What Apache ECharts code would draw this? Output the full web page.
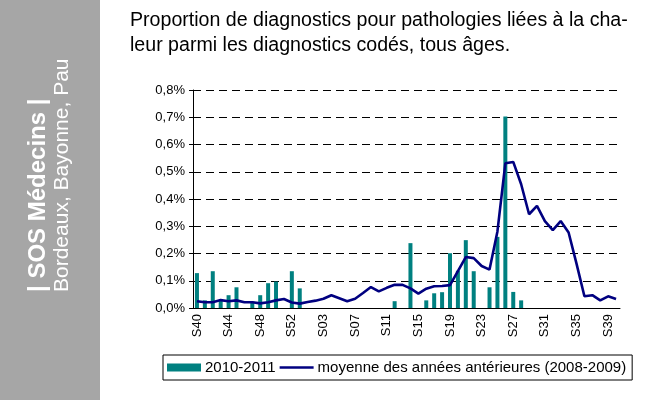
<!DOCTYPE html>
<html>
<head>
<meta charset="utf-8">
<script src="https://cdn.jsdelivr.net/npm/echarts@6/dist/echarts.min.js"></script>
<style>
  html, body { margin: 0; padding: 0; background: #fff; }
  #chart { width: 645px; height: 400px; }
</style>
</head>
<body>
<div id="chart"></div>
<script>
// semaines S40 (2010) -> S40 (2011)
const weeks = ['S40','S41','S42','S43','S44','S45','S46','S47','S48','S49','S50','S51','S52','S53',
  'S01','S02','S03','S04','S05','S06','S07','S08','S09','S10','S11','S12','S13','S14','S15','S16',
  'S17','S18','S19','S20','S21','S22','S23','S24','S25','S26','S27','S28','S29','S30','S31','S32',
  'S33','S34','S35','S36','S37','S38','S39','S40'];

// 2010-2011 (en %)
const saison = [0.128,0.028,0.135,0.027,0.047,0.076,null,0.024,0.047,0.091,0.097,null,0.135,0.072,
  null,null,null,null,null,null,null,null,null,null,null,0.025,null,0.238,null,0.028,
  0.054,0.058,0.201,0.137,0.249,0.135,null,0.076,0.261,0.703,0.059,0.028,null,null,null,null,
  null,null,null,null,null,null,null,null];

// moyenne des années antérieures (2008-2009), en %
const moyenne = [0.025,0.021,0.021,0.029,0.025,0.028,0.021,0.021,0.017,0.021,0.028,0.033,0.020,0.016,
  0.022,0.027,0.034,0.047,0.036,0.025,0.034,0.055,0.077,0.061,0.074,0.085,0.085,0.072,0.053,0.071,
  0.080,0.081,0.084,0.135,0.187,0.183,0.154,0.141,0.281,0.531,0.536,0.454,0.344,0.375,0.319,0.286,
  0.319,0.277,0.163,0.043,0.047,0.028,0.043,0.033];

const font = 'Liberation Sans, Arial, sans-serif';
const nomMoy = 'moyenne des années antérieures (2008-2009)';

let chart = echarts.init(document.getElementById('chart'));
chart.setOption({
  animation: false,
  backgroundColor: '#fff',
  graphic: [
    { type: 'rect', left: 0, top: 0, shape: { width: 100, height: 400 }, style: { fill: '#a6a6a6' } },
    { type: 'text', x: 38, y: 292, rotation: Math.PI / 2,
      style: { text: '| SOS Médecins |', fill: '#fff', font: 'bold 24px ' + font, textAlign: 'left', textVerticalAlign: 'middle' } },
    { type: 'text', x: 62, y: 292, rotation: Math.PI / 2,
      style: { text: 'Bordeaux, Bayonne, Pau', fill: '#fff', font: '21px ' + font, textAlign: 'left', textVerticalAlign: 'middle' } },
    { type: 'text', left: 130, top: 8,
      style: { text: 'Proportion de diagnostics pour pathologies liées à la cha-\nleur parmi les diagnostics codés, tous âges.',
        fill: '#000', font: '19.6px ' + font, lineHeight: 25 } }
  ],
  grid: { left: 193, right: 25, top: 90, bottom: 92, outerBoundsMode: 'none' },
  legend: {
    left: 163, top: 355,
    data: [
      { name: '2010-2011', icon: 'rect' },
      { name: nomMoy, icon: 'path://M0,0 L36,0 L36,2.6 L0,2.6 Z' }
    ],
    itemWidth: 34, itemHeight: 8, itemGap: 4,
    padding: [5, 6, 5, 4],
    borderColor: '#000', borderWidth: 1,
    textStyle: { fontFamily: font, fontSize: 15, color: '#000', padding: [0, 0, 0, -1] }
  },
  xAxis: {
    type: 'category',
    data: weeks,
    boundaryGap: true,
    axisLine: { lineStyle: { color: '#000', width: 1 } },
    axisTick: { interval: 0, length: 5, lineStyle: { color: '#000' } },
    axisLabel: { interval: 3, rotate: 90, fontFamily: font, fontSize: 13, color: '#000', margin: 6 },
    splitLine: { show: false }
  },
  yAxis: {
    type: 'value',
    min: 0, max: 0.8, interval: 0.1,
    axisLine: { show: true, lineStyle: { color: '#000', width: 1 } },
    axisTick: { show: true, length: 4, lineStyle: { color: '#000' } },
    axisLabel: {
      fontFamily: font, fontSize: 13, color: '#000', margin: 8,
      formatter: v => v.toFixed(1).replace('.', ',') + '%'
    },
    splitLine: { lineStyle: { color: '#000', type: [8, 5], width: 1 } }
  },
  series: [
    {
      name: '2010-2011', type: 'bar', data: saison,
      barWidth: 4, itemStyle: { color: '#008080' }
    },
    {
      name: nomMoy, type: 'line', data: moyenne,
      symbol: 'none', lineStyle: { color: '#000080', width: 2.6 }, itemStyle: { color: '#000080' }
    }
  ]
});
</script>
</body>
</html>
